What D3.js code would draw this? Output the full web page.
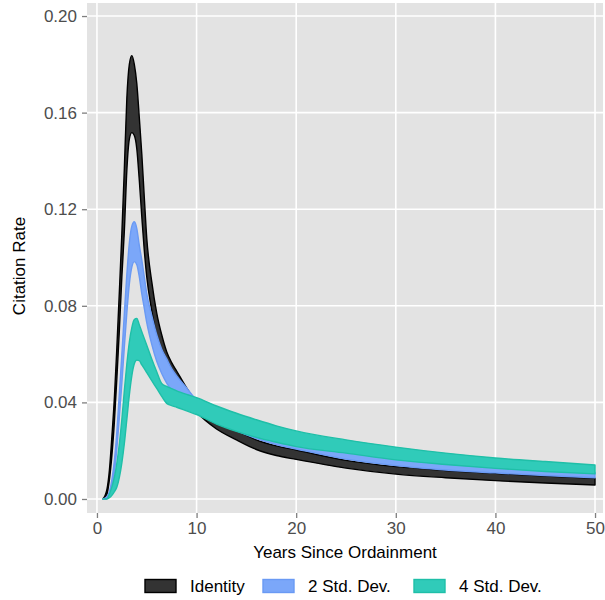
<!DOCTYPE html>
<html>
<head>
<meta charset="utf-8">
<script src="https://cdn.jsdelivr.net/npm/d3@7/dist/d3.min.js"></script>
<style>
html, body { margin: 0; padding: 0; background: #ffffff; }
svg { display: block; font-family: "Liberation Sans", Arial, sans-serif; }
</style>
</head>
<body>
<svg id="chart" width="605" height="600"></svg>
<script>
// ---- data ----
const years = [0.6, 1, 1.25, 1.5, 1.75, 2, 2.25, 2.5, 2.75, 3, 3.25, 3.5, 3.75, 4, 4.25, 4.5, 4.75, 5, 5.5, 6, 6.5, 7, 7.5, 8, 9, 10, 12, 14, 16, 18, 20, 25, 30, 35, 40, 45, 50];

const identityUpper = [0, 0.004, 0.012, 0.026, 0.042, 0.063, 0.086, 0.110, 0.137, 0.166, 0.180, 0.1836, 0.180, 0.172, 0.158, 0.143, 0.125, 0.108, 0.090, 0.077, 0.068, 0.061, 0.0565, 0.053, 0.046, 0.040, 0.0335, 0.0285, 0.0245, 0.022, 0.0203, 0.016, 0.0134, 0.0118, 0.0106, 0.0095, 0.0086];
const identityLower = [0, 0.002, 0.008, 0.018, 0.032, 0.050, 0.070, 0.092, 0.111, 0.136, 0.149, 0.1517, 0.1505, 0.145, 0.132, 0.117, 0.103, 0.092, 0.078, 0.067, 0.060, 0.054, 0.050, 0.047, 0.041, 0.036, 0.029, 0.0245, 0.0205, 0.018, 0.0164, 0.0128, 0.0103, 0.0088, 0.0076, 0.0066, 0.0058];

const sd2Upper = [0, 0.001, 0.003, 0.008, 0.016, 0.028, 0.044, 0.060, 0.077, 0.093, 0.106, 0.113, 0.1148, 0.112, 0.105, 0.099, 0.092, 0.085, 0.076, 0.068, 0.062, 0.058, 0.054, 0.051, 0.046, 0.041, 0.035, 0.031, 0.028, 0.026, 0.024, 0.0195, 0.0165, 0.0145, 0.013, 0.012, 0.011];
const sd2Lower = [0, 0, 0.002, 0.005, 0.011, 0.021, 0.034, 0.048, 0.063, 0.077, 0.089, 0.096, 0.0983, 0.097, 0.092, 0.085, 0.079, 0.073, 0.064, 0.057, 0.052, 0.048, 0.045, 0.0425, 0.040, 0.038, 0.0325, 0.0283, 0.025, 0.0225, 0.0207, 0.0165, 0.0138, 0.012, 0.0108, 0.0097, 0.0088];

const sd4Upper = [0, 0, 0.002, 0.005, 0.009, 0.015, 0.023, 0.033, 0.045, 0.056, 0.065, 0.071, 0.0743, 0.0748, 0.0722, 0.0693, 0.0665, 0.0637, 0.058, 0.0527, 0.0478, 0.0466, 0.0457, 0.0448, 0.0433, 0.042, 0.0385, 0.0355, 0.0328, 0.0303, 0.0282, 0.0245, 0.0215, 0.019, 0.017, 0.0155, 0.0141];
const sd4Lower = [0, 0, 0.0005, 0.0015, 0.003, 0.005, 0.009, 0.015, 0.023, 0.033, 0.043, 0.051, 0.056, 0.0575, 0.0573, 0.0555, 0.054, 0.0523, 0.049, 0.0458, 0.0425, 0.0396, 0.0387, 0.038, 0.0365, 0.035, 0.031, 0.028, 0.0255, 0.0235, 0.0217, 0.019, 0.0162, 0.0143, 0.0127, 0.0114, 0.0104];

const seriesNames = ["Identity", "2 Std. Dev.", "4 Std. Dev."];
const xTicks = [0, 10, 20, 30, 40, 50];
const yTicks = [0, 0.04, 0.08, 0.12, 0.16, 0.20];
const xTitle = "Years Since Ordainment";
const yTitle = "Citation Rate";

// ---- styles ----
const fills = ["#333333", "#7ba7f9", "#30cbb9"];
const strokes = ["#000000", "#6a9af4", "#1fbfa8"];

const series = [
  { name: seriesNames[0], lower: identityLower, upper: identityUpper },
  { name: seriesNames[1], lower: sd2Lower, upper: sd2Upper },
  { name: seriesNames[2], lower: sd4Lower, upper: sd4Upper }
];

const svg = d3.select("#chart");
const panel = { left: 87, right: 603, top: 3, bottom: 513 };

const x = d3.scaleLinear().domain([-1.0, 50.8]).range([panel.left, panel.right]);
const y = d3.scaleLinear().domain([-0.0058, 0.2054]).range([panel.bottom, panel.top]);

// panel background
svg.append("rect")
  .attr("x", panel.left).attr("y", panel.top)
  .attr("width", panel.right - panel.left).attr("height", panel.bottom - panel.top)
  .attr("fill", "#e3e3e3");

// gridlines
const grid = svg.append("g");
grid.selectAll(".gx").data(xTicks).enter().append("line")
  .attr("x1", d => x(d)).attr("x2", d => x(d))
  .attr("y1", panel.top).attr("y2", panel.bottom)
  .attr("stroke", "#ffffff").attr("stroke-width", 1.6);
grid.selectAll(".gy").data(yTicks).enter().append("line")
  .attr("x1", panel.left).attr("x2", panel.right)
  .attr("y1", d => y(d)).attr("y2", d => y(d))
  .attr("stroke", "#ffffff").attr("stroke-width", 1.6);

// ribbons
const area = d3.area()
  .x(d => x(d.x))
  .y0(d => y(d.lo))
  .y1(d => y(d.hi))
  .curve(d3.curveMonotoneX);

series.forEach((s, i) => {
  const pts = years.map((yr, j) => ({ x: yr, lo: s.lower[j], hi: s.upper[j] }));
  svg.append("path")
    .datum(pts)
    .attr("d", area)
    .attr("fill", fills[i])
    .attr("stroke", strokes[i])
    .attr("stroke-width", 1.4)
    .attr("stroke-linejoin", "round");
});

// axes
const xAxis = d3.axisBottom(x).tickValues(xTicks).tickSize(5).tickPadding(4).tickFormat(d3.format("d"));
const yAxis = d3.axisLeft(y).tickValues(yTicks).tickSize(5).tickPadding(5).tickFormat(d3.format(".2f"));

const gx = svg.append("g").attr("transform", `translate(0,${panel.bottom})`).call(xAxis);
const gy = svg.append("g").attr("transform", `translate(${panel.left},0)`).call(yAxis);
[gx, gy].forEach(g => {
  g.select(".domain").remove();
  g.selectAll(".tick line").attr("stroke", "#7f7f7f").attr("stroke-width", 1.3);
  g.selectAll(".tick text").attr("fill", "#4d4d4d").style("font-size", "17px")
    .style("font-family", "'Liberation Sans', Arial, sans-serif");
});

// axis titles
svg.append("text")
  .attr("x", (panel.left + panel.right) / 2).attr("y", 558)
  .attr("text-anchor", "middle").style("font-size", "17px").attr("fill", "#000")
  .text(xTitle);
svg.append("text")
  .attr("transform", `translate(25,${(panel.top + panel.bottom) / 2 + 8}) rotate(-90)`)
  .attr("text-anchor", "middle").style("font-size", "17px").attr("fill", "#000")
  .text(yTitle);

// legend
const legendX = [145, 263, 414];
const leg = svg.append("g");
series.forEach((s, i) => {
  leg.append("rect")
    .attr("x", legendX[i]).attr("y", 579.5)
    .attr("width", 31).attr("height", 13)
    .attr("fill", fills[i]).attr("stroke", strokes[i]).attr("stroke-width", 1.4);
  leg.append("text")
    .attr("x", legendX[i] + 45).attr("y", 592)
    .style("font-size", "17px").attr("fill", "#000")
    .text(s.name);
});
</script>
</body>
</html>
